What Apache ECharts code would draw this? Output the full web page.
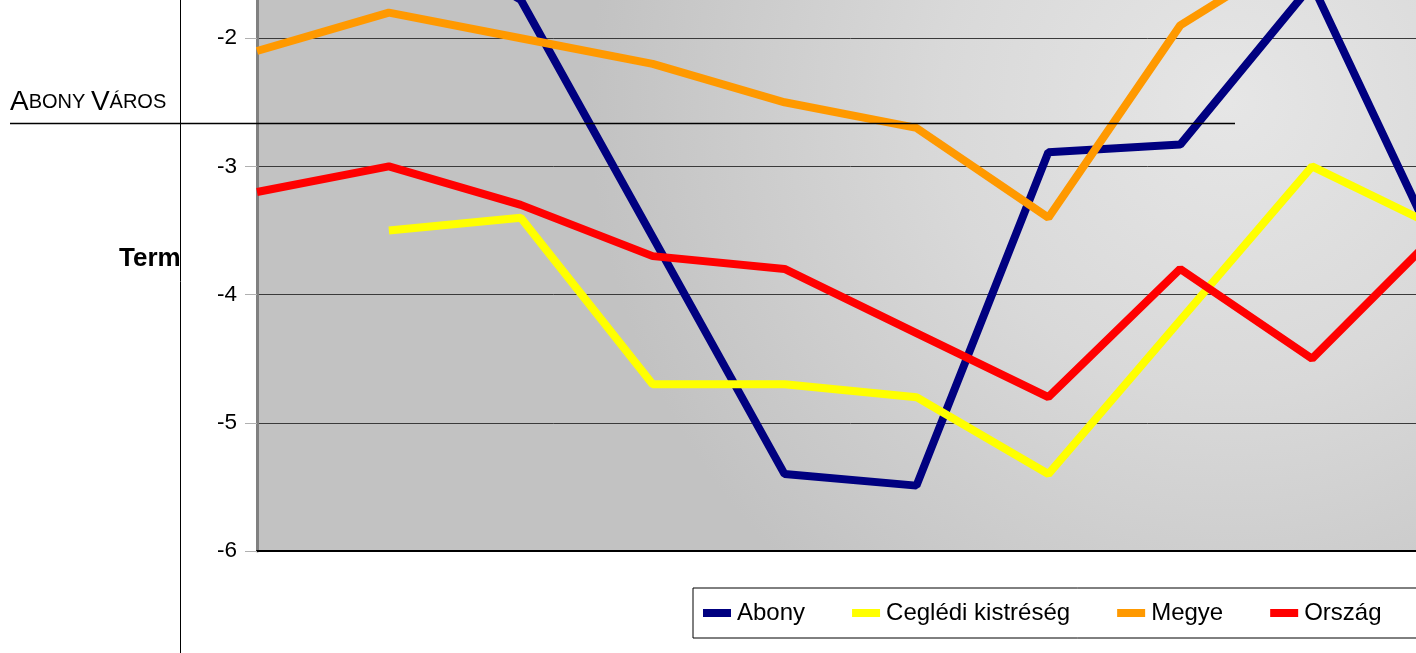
<!DOCTYPE html>
<html lang="hu">
<head>
    <meta charset="UTF-8">
    <title>Abony Város</title>
    <script src="https://cdn.jsdelivr.net/npm/echarts/dist/echarts.min.js"></script>
    <style>
        html, body { margin: 0; padding: 0; background: #fff; width: 1416px; height: 653px; overflow: hidden; }
        /* a diagram a képkivágásnál nagyobb: felül és jobbra kilóg */
        #main { position: absolute; left: 0; top: -90px; width: 1700px; height: 743px; }
    </style>
</head>
<body>
    <div id="main"></div>
    <script type="text/javascript">
        // adatok
        var categories = ['1999', '2000', '2001', '2002', '2003', '2004', '2005', '2006', '2007', '2008'];
        var abony = [-1.3, -1.1, -1.7, -3.55, -5.4, -5.49, -2.89, -2.83, -1.58, -3.76];
        var cegledi = [null, -3.5, -3.4, -4.7, -4.7, -4.8, -5.4, -4.2, -3.0, -3.5];
        var megye = [-2.1, -1.8, -2.0, -2.2, -2.5, -2.7, -3.4, -1.9, -1.26, -1.5];
        var orszag = [-3.2, -3.0, -3.3, -3.7, -3.8, -4.3, -4.8, -3.8, -4.5, -3.47];
        var yTicks = [-6, -5, -4, -3, -2, -1];

        var OFF = 90; // a div ennyivel van feljebb tolva

        var myChart = echarts.init(document.getElementById('main'));

        function lineSeries(name, data, color) {
            return {
                name: name,
                type: 'line',
                data: data,
                showSymbol: false,
                symbol: 'none',
                lineStyle: { color: color, width: 8 },
                itemStyle: { color: color },
                connectNulls: false
            };
        }

        var option = {
            animation: false,
            backgroundColor: '#ffffff',
            textStyle: { fontFamily: 'Liberation Sans' },
            graphic: [
                {
                    // tengelycím, a diagram kerete eltakarja
                    type: 'text', left: 119, top: 246 + OFF, z: -3,
                    style: { text: 'Természetes szaporodás', font: 'bold 26px "Liberation Sans"', fill: '#000' }
                },
                {
                    type: 'rect', z: -2,
                    shape: { x: 180.5, y: -2, width: 1600, height: 760 },
                    style: { fill: '#ffffff', stroke: '#000', lineWidth: 1 }
                },
                {
                    type: 'text', left: 10, top: 88 + OFF, z: 100,
                    style: {
                        text: '{b|A}{s|BONY }{b|V}{s|ÁROS}',
                        fill: '#000',
                        rich: {
                            b: { fontSize: 28, fontFamily: 'Liberation Sans', fill: '#000' },
                            s: { fontSize: 20, fontFamily: 'Liberation Sans', fill: '#000' }
                        }
                    }
                },
                {
                    type: 'line', z: 100,
                    shape: { x1: 10, y1: 123.5 + OFF, x2: 1235, y2: 123.5 + OFF },
                    style: { stroke: '#000', lineWidth: 1.5 }
                }
            ],
            legend: {
                left: 693,
                top: 588 + OFF,
                icon: 'rect',
                itemWidth: 28,
                itemHeight: 8,
                itemGap: 47,
                padding: [13, 80, 13, 10],
                backgroundColor: '#ffffff',
                borderColor: '#000',
                borderWidth: 1,
                textStyle: { fontSize: 24, color: '#000', fontFamily: 'Liberation Sans', padding: [0, 0, 0, 1] },
                data: ['Abony', 'Ceglédi kistréség', 'Megye', 'Ország']
            },
            grid: {
                left: 257,
                right: 256,
                top: 0,
                bottom: 102,
                outerBoundsMode: 'none',
                show: true,
                borderWidth: 0,
                backgroundColor: new echarts.graphic.RadialGradient(0.82, 0.3, 1.0, [
                    { offset: 0, color: '#e6e6e6' },
                    { offset: 0.45, color: '#d9d9d9' },
                    { offset: 1, color: '#c2c2c2' }
                ])
            },
            xAxis: {
                type: 'category',
                boundaryGap: false,
                data: categories,
                axisLine: { lineStyle: { color: '#000', width: 2 } },
                axisTick: { show: false },
                axisLabel: { show: false },
                splitLine: { show: false }
            },
            yAxis: {
                type: 'value',
                min: yTicks[0],
                max: yTicks[yTicks.length - 1],
                interval: 1,
                axisLine: { show: true, lineStyle: { color: '#808080', width: 3 } },
                axisTick: { show: true, length: 12, lineStyle: { color: '#b0b0b0' } },
                axisLabel: { margin: 20, fontSize: 22.5, color: '#000', fontFamily: 'Liberation Sans' },
                splitLine: { show: true, lineStyle: { color: '#3a3a3a', width: 1 } }
            },
            series: [
                lineSeries('Abony', abony, '#000080'),
                lineSeries('Ceglédi kistréség', cegledi, '#ffff00'),
                lineSeries('Megye', megye, '#ff9900'),
                lineSeries('Ország', orszag, '#ff0000')
            ]
        };

        myChart.setOption(option);
    </script>
</body>
</html>
